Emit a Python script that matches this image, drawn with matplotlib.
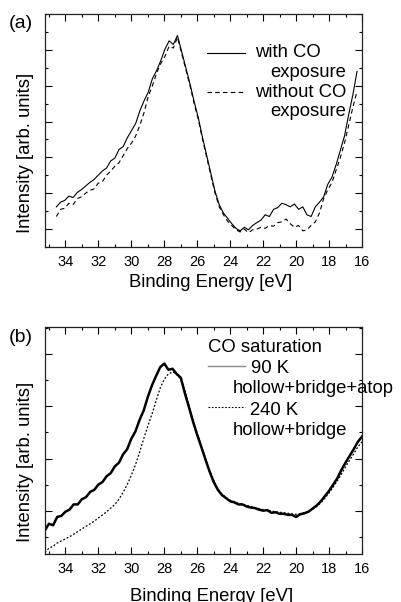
import numpy as np
import matplotlib
matplotlib.use("Agg")
import matplotlib.pyplot as plt
from matplotlib.ticker import MultipleLocator

plt.rcParams['font.family'] = ['Liberation Sans', 'DejaVu Sans']

# panel (a): valence band spectra, 73 points from 34.55 down to 16.3 eV
energy_a = np.linspace(34.55, 16.3, 73)
with_co = [
    1.62, 1.75, 1.80, 1.92, 1.88, 2.02, 2.10, 2.20, 2.30, 2.38,
    2.50, 2.62, 2.70, 2.90, 2.98, 3.22, 3.30, 3.55, 3.75, 3.95,
    4.30, 4.58, 4.82, 5.20, 5.42, 5.70, 6.02, 6.25, 6.15, 6.40,
    5.95, 5.50, 5.05, 4.55, 4.10, 3.55, 3.05, 2.55, 2.05, 1.68,
    1.45, 1.30, 1.15, 1.02, 0.95, 1.05, 0.98, 1.10, 1.18, 1.25,
    1.40, 1.35, 1.55, 1.60, 1.72, 1.68, 1.62, 1.70, 1.55, 1.62,
    1.40, 1.35, 1.62, 1.75, 1.90, 2.25, 2.45, 2.80, 3.20, 3.60,
    4.20, 4.75, 5.40,
]
without_co = [
    1.35, 1.55, 1.58, 1.72, 1.68, 1.85, 1.90, 2.00, 2.08, 2.12,
    2.28, 2.32, 2.50, 2.62, 2.75, 2.85, 3.05, 3.25, 3.40, 3.60,
    3.90, 4.25, 4.70, 5.00, 5.35, 5.62, 5.82, 6.10, 6.05, 6.35,
    5.90, 5.45, 5.00, 4.50, 4.05, 3.50, 3.00, 2.50, 2.00, 1.62,
    1.40, 1.22, 1.10, 0.98, 0.92, 1.00, 0.90, 0.98, 1.00, 1.05,
    1.02, 1.10, 1.08, 1.18, 1.20, 1.28, 1.15, 1.05, 1.10, 0.95,
    0.98, 1.10, 1.20, 1.45, 1.85, 2.10, 2.30, 2.65, 3.00, 3.40,
    3.90, 4.40, 4.85,
]

# panel (b): CO saturation at two temperatures, 0.25 eV grid from 35.25 to 16.0 eV
energy_b = np.linspace(35.25, 16.0, 78)
sat_90k = [
    0.62, 0.75, 0.72, 0.88, 0.90, 0.98, 1.02, 1.12, 1.12, 1.22,
    1.26, 1.36, 1.40, 1.50, 1.55, 1.66, 1.72, 1.85, 1.92, 2.08,
    2.18, 2.38, 2.52, 2.74, 2.92, 3.18, 3.40, 3.58, 3.75, 3.82,
    3.70, 3.72, 3.62, 3.55, 3.25, 2.98, 2.70, 2.45, 2.22, 1.98,
    1.75, 1.55, 1.40, 1.30, 1.24, 1.18, 1.16, 1.12, 1.12, 1.08,
    1.06, 1.05, 1.02, 1.00, 1.01, 0.96, 0.97, 0.94, 0.94, 0.92,
    0.92, 0.88, 0.93, 0.95, 0.98, 1.04, 1.10, 1.18, 1.28, 1.38,
    1.50, 1.62, 1.78, 1.92, 2.05, 2.18, 2.32, 2.42,
]
sat_240k = [
    0.20, 0.28, 0.32, 0.38, 0.42, 0.46, 0.50, 0.55, 0.60, 0.65,
    0.70, 0.75, 0.80, 0.86, 0.92, 0.98, 1.05, 1.12, 1.22, 1.35,
    1.50, 1.68, 1.88, 2.12, 2.38, 2.62, 2.85, 3.10, 3.35, 3.52,
    3.62, 3.66, 3.62, 3.52, 3.30, 3.02, 2.75, 2.48, 2.24, 2.00,
    1.78, 1.58, 1.42, 1.32, 1.25, 1.20, 1.17, 1.14, 1.12, 1.10,
    1.08, 1.06, 1.04, 1.02, 1.02, 0.99, 0.98, 0.97, 0.96, 0.95,
    0.94, 0.93, 0.94, 0.96, 0.99, 1.03, 1.08, 1.15, 1.24, 1.34,
    1.45, 1.57, 1.70, 1.84, 1.97, 2.09, 2.22, 2.32,
]

fig = plt.figure(figsize=(4.01, 6.02), dpi=100)
W, H = 401.0, 602.0
FS = 13.3


def px(x, y):
    return x / W, 1 - y / H


def style_axes(ax):
    ax.xaxis.set_major_locator(MultipleLocator(2))
    ax.xaxis.set_minor_locator(MultipleLocator(1))
    ax.yaxis.set_major_locator(MultipleLocator(1))
    ax.yaxis.set_minor_locator(MultipleLocator(0.5))
    ax.tick_params(which='both', direction='in', top=True, right=True,
                   labelleft=False, width=0.8)
    ax.tick_params(which='major', length=5, labelsize=10.5, pad=6)
    ax.tick_params(which='minor', length=2.5)
    for s in ax.spines.values():
        s.set_linewidth(0.9)
        s.set_color('#222222')


# ---- (a)
ax1 = fig.add_axes([45 / W, 1 - 247 / H, 317 / W, 233 / H])
ax1.plot(energy_a, with_co, color='black', lw=0.8)
ax1.plot(energy_a, without_co, color='black', lw=0.8, dashes=(4, 3))
ax1.set_xlim(35.24, 16.0)
ax1.set_ylim(0.5, 7.0)
style_axes(ax1)

# hand-made key for (a)
fig.add_artist(plt.Line2D([207 / W, 245 / W], [1 - 52.7 / H] * 2, color='black', lw=0.8))
fig.add_artist(plt.Line2D([207 / W, 245 / W], [1 - 91.7 / H] * 2, color='black', lw=0.8,
                          dashes=(4, 3)))
fig.text(*px(255, 56.7), 'with CO', fontsize=FS, va='baseline', ha='left')
fig.text(*px(346, 76.7), 'exposure', fontsize=FS, va='baseline', ha='right')
fig.text(*px(255, 96.7), 'without CO', fontsize=FS, va='baseline', ha='left')
fig.text(*px(346, 116), 'exposure', fontsize=FS, va='baseline', ha='right')

fig.text(*px(21, 24), '(a)', fontsize=14, va='center', ha='center')
fig.text(*px(26, 153), 'Intensity [arb. units]', fontsize=FS, rotation=90,
         va='center', ha='center')
fig.text(*px(211, 287), 'Binding Energy [eV]', fontsize=FS, va='baseline', ha='center')

# ---- (b)
ax2 = fig.add_axes([45 / W, 1 - 554 / H, 317 / W, 227 / H])
ax2.plot(energy_b, sat_90k, color='black', lw=1.8)
ax2.plot(energy_b, sat_240k, color='black', lw=0.9, linestyle=(0, (1.5, 1.5)))
ax2.set_xlim(35.24, 16.0)
ax2.set_ylim(0.17, 4.52)
style_axes(ax2)

fig.add_artist(plt.Line2D([208 / W, 245 / W], [1 - 366 / H] * 2, color='#8a8a8a', lw=1.0))
fig.add_artist(plt.Line2D([208 / W, 245 / W], [1 - 407 / H] * 2, color='black', lw=0.8,
                          linestyle=(0, (1.5, 1.5))))
fig.text(*px(208, 351.7), 'CO saturation', fontsize=FS, va='baseline', ha='left')
fig.text(*px(251, 373.3), '90 K', fontsize=FS, va='baseline', ha='left')
fig.text(*px(233, 393.3), 'hollow+bridge+atop', fontsize=FS, va='baseline', ha='left')
fig.text(*px(250, 415), '240 K', fontsize=FS, va='baseline', ha='left')
fig.text(*px(233, 435), 'hollow+bridge', fontsize=FS, va='baseline', ha='left')

fig.text(*px(21, 338), '(b)', fontsize=14, va='center', ha='center')
fig.text(*px(26, 462), 'Intensity [arb. units]', fontsize=FS, rotation=90,
         va='center', ha='center')
fig.text(*px(212, 601), 'Binding Energy [eV]', fontsize=FS, va='baseline', ha='center')

fig.savefig('out.png', dpi=100)
